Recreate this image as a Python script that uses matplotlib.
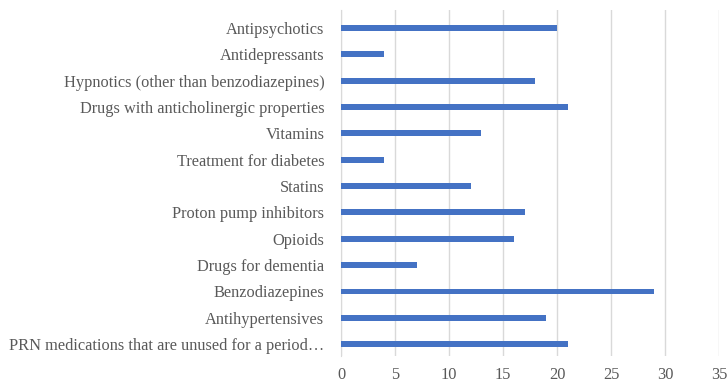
import matplotlib.pyplot as plt

categories = [
    "Antipsychotics",
    "Antidepressants",
    "Hypnotics (other than benzodiazepines)",
    "Drugs with anticholinergic properties",
    "Vitamins",
    "Treatment for diabetes",
    "Statins",
    "Proton pump inhibitors",
    "Opioids",
    "Drugs for dementia",
    "Benzodiazepines",
    "Antihypertensives",
    "PRN medications that are unused for a period\u2026",
]
counts = [20, 4, 18, 21, 13, 4, 12, 17, 16, 7, 29, 19, 21]
xticks = [0, 5, 10, 15, 20, 25, 30, 35]

plt.rcParams['font.family'] = ['Liberation Serif', 'DejaVu Serif']
grey = '#595959'

fig = plt.figure(figsize=(7.27, 3.83), dpi=100)
ax = fig.add_axes([341 / 727, 1 - 356 / 383, 378 / 727, 346 / 383])

ypos = list(range(len(categories)))
ax.barh(ypos, counts, height=0.22, color='#4472c4', zorder=3)

ax.set_xlim(0, 35)
ax.set_ylim(12.45, -0.68)
ax.set_xticks(xticks)
ax.set_xticklabels([str(t) for t in xticks])
ax.set_yticks(ypos)
ax.set_yticklabels(categories)

ax.grid(axis='x', color='#d9d9d9', lw=1, zorder=0)
for s in ['top', 'right', 'bottom']:
    ax.spines[s].set_visible(False)
ax.spines['left'].set_color('#d9d9d9')
ax.tick_params(axis='both', length=0, colors=grey, labelsize=11.8)
ax.tick_params(axis='y', pad=12)
ax.tick_params(axis='x', pad=8)

fig.savefig('out.png', dpi=100)
